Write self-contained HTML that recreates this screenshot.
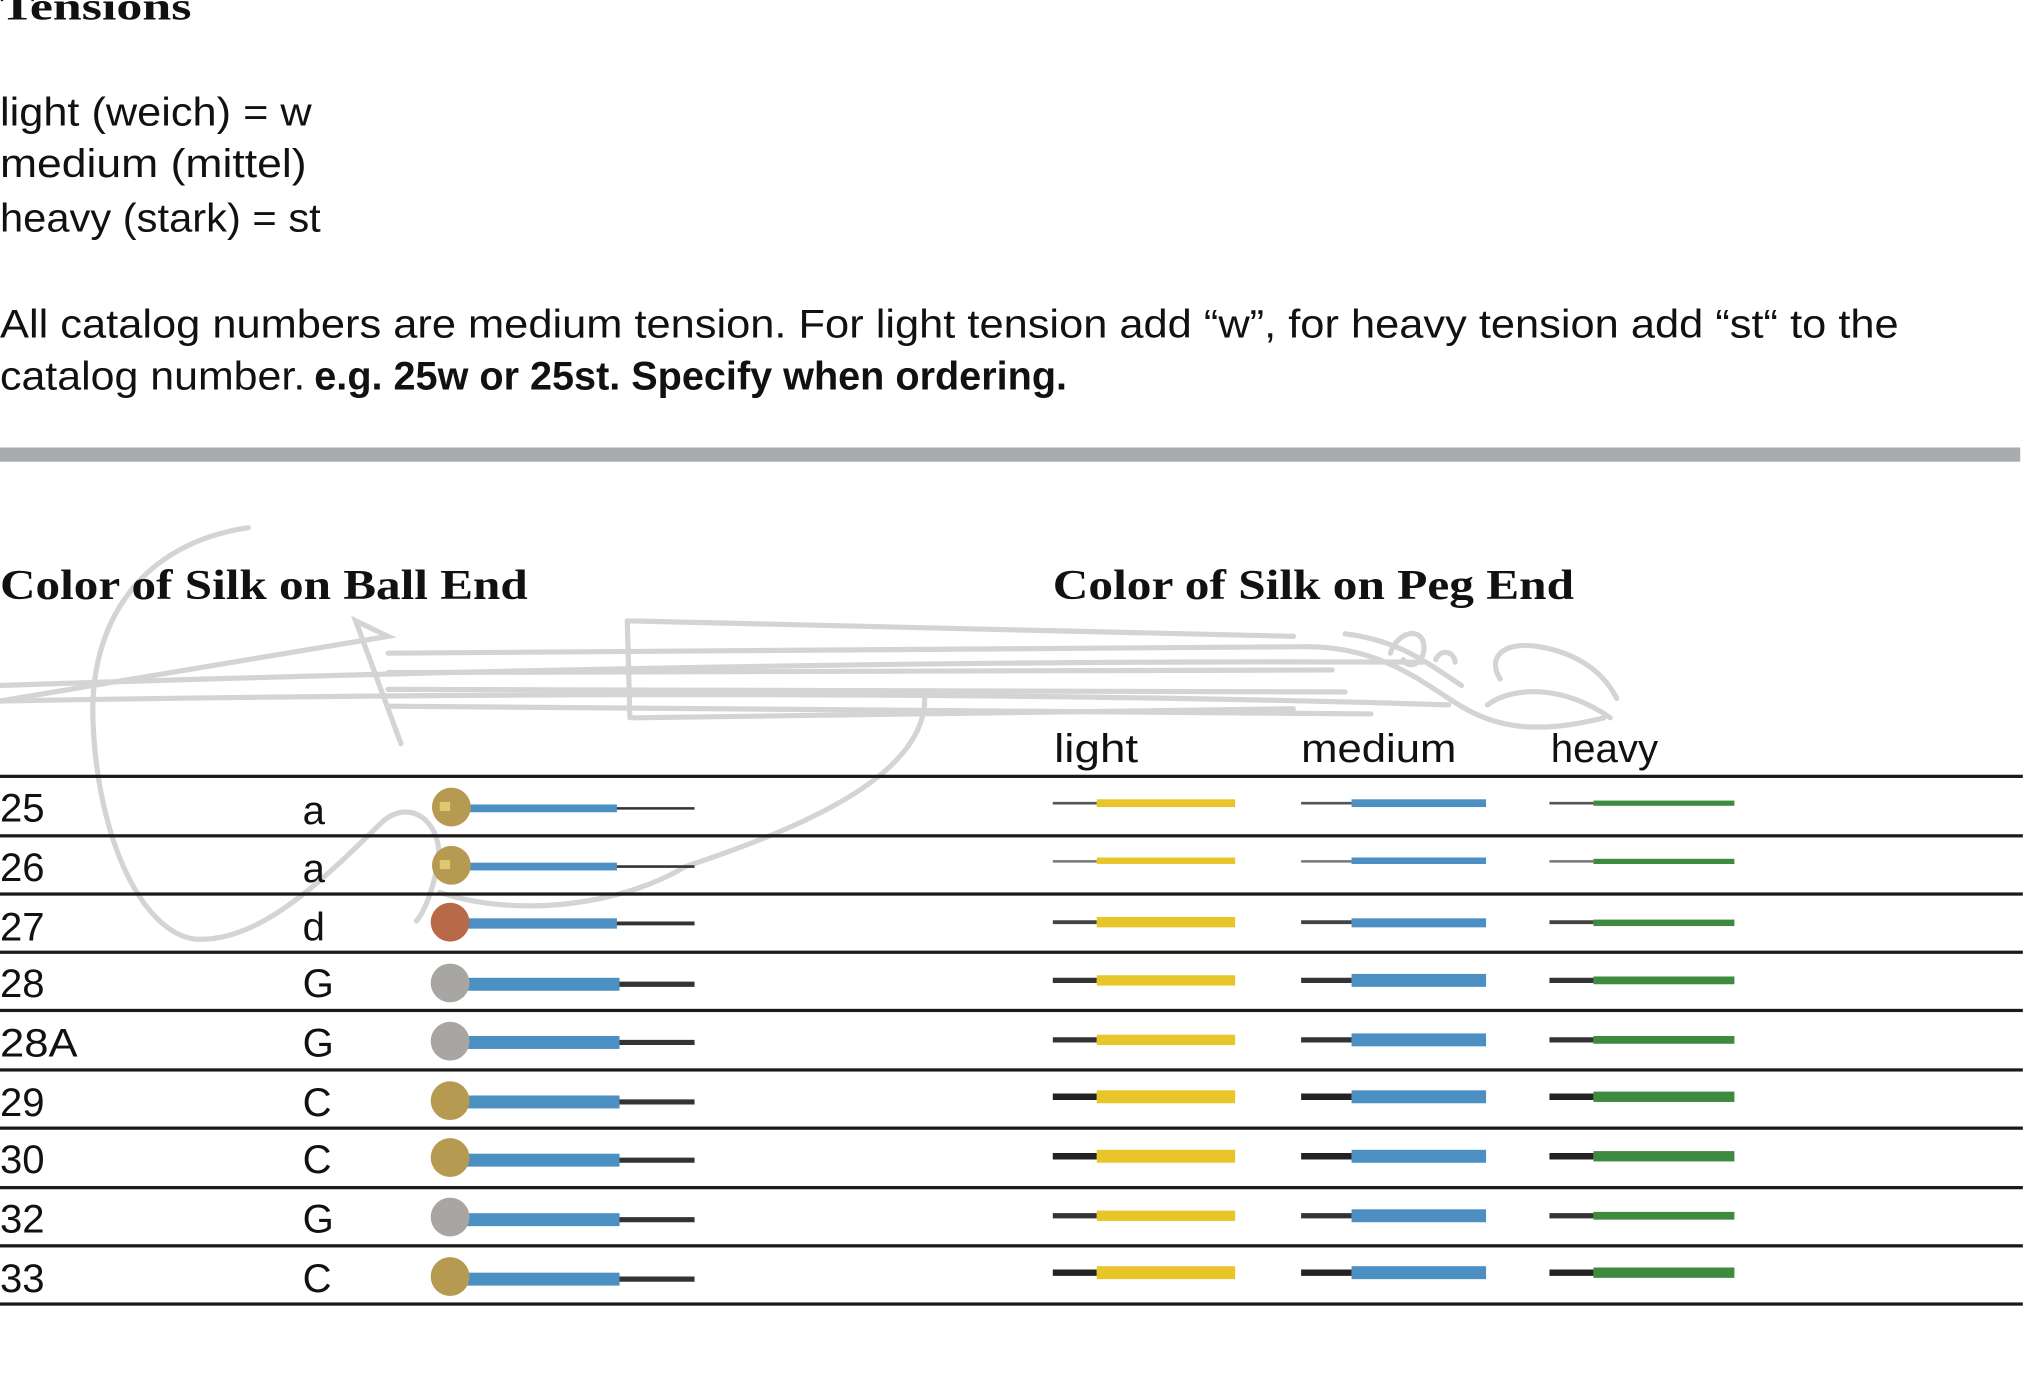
<!DOCTYPE html>
<html><head><meta charset="utf-8"><style>
html,body{margin:0;padding:0;background:#fff;}
svg{display:block;}
text{font-family:"Liberation Sans",sans-serif;fill:#111;}
.s{font-family:"Liberation Serif",serif;font-weight:bold;}
</style></head><body>
<svg width="2028" height="1379" viewBox="0 0 1568 1066.2" xmlns="http://www.w3.org/2000/svg">
<rect width="1568" height="1067" fill="#fff"/>
<g fill="none" stroke="#d2d4d6" stroke-width="4" stroke-linecap="round">
<path d="M192,408 C110,420 68,480 72,560 C76,650 110,720 150,726 C200,730 250,680 296,635 C320,615 345,640 338,670 C334,690 328,705 322,712"/>
<path d="M340,690 C400,710 480,700 530,670 C620,640 715,600 715,540"/>
<path d="M0,542 L300,492 L275,480 L310,575"/>
<path d="M0,530 C300,520 700,510 1100,512"/>
<path d="M0,542 C400,535 800,535 1120,545"/>
<path d="M300,505 L1010,500"/>
<path d="M300,520 L1030,518"/>
<path d="M300,533 L1040,535"/>
<path d="M300,546 L1060,552"/>
<path d="M485,480 L487,555"/>
<path d="M485,480 L1000,492"/>
<path d="M490,555 L1000,548"/>
<path d="M1010,500 C1060,500 1090,520 1120,540 C1150,560 1180,570 1240,555"/>
<path d="M1040,490 C1080,495 1100,510 1130,530"/>
<path d="M1075,505 C1080,490 1095,485 1100,495 C1105,510 1090,520 1085,510"/>
<path d="M1110,510 C1115,500 1125,505 1125,512"/>
<path d="M1160,525 C1150,510 1160,495 1190,500 C1220,505 1240,520 1250,540"/>
<path d="M1150,545 C1170,530 1210,530 1245,555"/>
</g>
<text class="s" x="0" y="15" font-size="30" textLength="148" lengthAdjust="spacingAndGlyphs">Tensions</text>
<text x="0" y="97" font-size="31" textLength="241" lengthAdjust="spacingAndGlyphs">light (weich) = w</text>
<text x="0" y="137" font-size="31" textLength="237" lengthAdjust="spacingAndGlyphs">medium (mittel)</text>
<text x="0" y="179" font-size="31" textLength="248" lengthAdjust="spacingAndGlyphs">heavy (stark) = st</text>
<text x="0" y="261" font-size="31" textLength="1468" lengthAdjust="spacingAndGlyphs">All catalog numbers are medium tension. For light tension add “w”, for heavy tension add “st“ to the</text>
<text x="0" y="301" font-size="31" textLength="236" lengthAdjust="spacingAndGlyphs">catalog number.</text>
<text x="243" y="301" font-size="31" font-weight="bold" textLength="582" lengthAdjust="spacingAndGlyphs">e.g. 25w or 25st. Specify when ordering.</text>
<rect x="0" y="346" width="1562" height="11" fill="#a8acaf"/>
<text class="s" x="0" y="463" font-size="33" textLength="408" lengthAdjust="spacingAndGlyphs">Color of Silk on Ball End</text>
<text class="s" x="814" y="463" font-size="33" textLength="403" lengthAdjust="spacingAndGlyphs">Color of Silk on Peg End</text>
<text x="815" y="589" font-size="31" textLength="65" lengthAdjust="spacingAndGlyphs">light</text>
<text x="1006" y="589" font-size="31" textLength="120" lengthAdjust="spacingAndGlyphs">medium</text>
<text x="1199" y="589" font-size="31" textLength="83" lengthAdjust="spacingAndGlyphs">heavy</text>
<g fill="#1a1a1a">
<rect x="0" y="599" width="1564" height="2.5"/>
<rect x="0" y="645" width="1564" height="2.5"/>
<rect x="0" y="690" width="1564" height="2.5"/>
<rect x="0" y="735" width="1564" height="2.5"/>
<rect x="0" y="780" width="1564" height="2.5"/>
<rect x="0" y="826" width="1564" height="2.5"/>
<rect x="0" y="871" width="1564" height="2.5"/>
<rect x="0" y="917" width="1564" height="2.5"/>
<rect x="0" y="962" width="1564" height="2.5"/>
<rect x="0" y="1007" width="1564" height="2.5"/>
</g>
<g font-size="31">
<text x="0" y="635">25</text><text x="234" y="637">a</text>
<text x="0" y="681">26</text><text x="234" y="682">a</text>
<text x="0" y="727">27</text><text x="234" y="727">d</text>
<text x="0" y="771">28</text><text x="234" y="771">G</text>
<text x="0" y="817" textLength="60" lengthAdjust="spacingAndGlyphs">28A</text><text x="234" y="817">G</text>
<text x="0" y="863">29</text><text x="234" y="863">C</text>
<text x="0" y="907">30</text><text x="234" y="907">C</text>
<text x="0" y="953">32</text><text x="234" y="953">G</text>
<text x="0" y="999">33</text><text x="234" y="999">C</text>
</g>
<g>
<line x1="475" y1="625" x2="537" y2="625" stroke="#333" stroke-width="2"/><rect x="355" y="622" width="122" height="6" fill="#4b8fc3"/><circle cx="349" cy="624" r="15" fill="#b69a52"/><rect x="340" y="620" width="8" height="7" fill="#e0c870"/>
<line x1="475" y1="670" x2="537" y2="670" stroke="#333" stroke-width="2"/><rect x="355" y="667" width="122" height="6" fill="#4b8fc3"/><circle cx="349" cy="669" r="15" fill="#b69a52"/><rect x="340" y="665" width="8" height="7" fill="#e0c870"/>
<line x1="475" y1="714" x2="537" y2="714" stroke="#333" stroke-width="3"/><rect x="355" y="710" width="122" height="8" fill="#4b8fc3"/><circle cx="348" cy="713" r="15" fill="#b86a48"/>
<line x1="475" y1="761" x2="537" y2="761" stroke="#333" stroke-width="4"/><rect x="355" y="756" width="124" height="10" fill="#4b8fc3"/><circle cx="348" cy="760" r="15" fill="#a8a6a2"/>
<line x1="475" y1="806" x2="537" y2="806" stroke="#333" stroke-width="4"/><rect x="355" y="801" width="124" height="10" fill="#4b8fc3"/><circle cx="348" cy="805" r="15" fill="#a8a6a2"/>
<line x1="475" y1="852" x2="537" y2="852" stroke="#333" stroke-width="4"/><rect x="355" y="847" width="124" height="10" fill="#4b8fc3"/><circle cx="348" cy="851" r="15" fill="#b69a52"/>
<line x1="475" y1="897" x2="537" y2="897" stroke="#333" stroke-width="4"/><rect x="355" y="892" width="124" height="10" fill="#4b8fc3"/><circle cx="348" cy="895" r="15" fill="#b69a52"/>
<line x1="475" y1="943" x2="537" y2="943" stroke="#333" stroke-width="4"/><rect x="355" y="938" width="124" height="10" fill="#4b8fc3"/><circle cx="348" cy="941" r="15" fill="#a8a6a2"/>
<line x1="475" y1="989" x2="537" y2="989" stroke="#333" stroke-width="4"/><rect x="355" y="984" width="124" height="10" fill="#4b8fc3"/><circle cx="348" cy="987" r="15" fill="#b69a52"/>
</g>
<g>
<line x1="814" y1="621" x2="848" y2="621" stroke="#555" stroke-width="2"/><rect x="848" y="618" width="107" height="6" fill="#e8c62a"/>
<line x1="1006" y1="621" x2="1045" y2="621" stroke="#555" stroke-width="2"/><rect x="1045" y="618" width="104" height="6" fill="#4b8fc3"/>
<line x1="1198" y1="621" x2="1232" y2="621" stroke="#555" stroke-width="2"/><rect x="1232" y="619" width="109" height="4" fill="#3e8a3e"/>
<line x1="814" y1="666" x2="848" y2="666" stroke="#777" stroke-width="2"/><rect x="848" y="663" width="107" height="5" fill="#e8c62a"/>
<line x1="1006" y1="666" x2="1045" y2="666" stroke="#777" stroke-width="2"/><rect x="1045" y="663" width="104" height="5" fill="#4b8fc3"/>
<line x1="1198" y1="666" x2="1232" y2="666" stroke="#777" stroke-width="2"/><rect x="1232" y="664" width="109" height="4" fill="#3e8a3e"/>
<line x1="814" y1="713" x2="848" y2="713" stroke="#444" stroke-width="3"/><rect x="848" y="709" width="107" height="8" fill="#e8c62a"/>
<line x1="1006" y1="713" x2="1045" y2="713" stroke="#444" stroke-width="3"/><rect x="1045" y="710" width="104" height="7" fill="#4b8fc3"/>
<line x1="1198" y1="713" x2="1232" y2="713" stroke="#444" stroke-width="3"/><rect x="1232" y="711" width="109" height="5" fill="#3e8a3e"/>
<line x1="814" y1="758" x2="848" y2="758" stroke="#333" stroke-width="4"/><rect x="848" y="754" width="107" height="8" fill="#e8c62a"/>
<line x1="1006" y1="758" x2="1045" y2="758" stroke="#333" stroke-width="4"/><rect x="1045" y="753" width="104" height="10" fill="#4b8fc3"/>
<line x1="1198" y1="758" x2="1232" y2="758" stroke="#333" stroke-width="4"/><rect x="1232" y="755" width="109" height="6" fill="#3e8a3e"/>
<line x1="814" y1="804" x2="848" y2="804" stroke="#333" stroke-width="4"/><rect x="848" y="800" width="107" height="8" fill="#e8c62a"/>
<line x1="1006" y1="804" x2="1045" y2="804" stroke="#333" stroke-width="4"/><rect x="1045" y="799" width="104" height="10" fill="#4b8fc3"/>
<line x1="1198" y1="804" x2="1232" y2="804" stroke="#333" stroke-width="4"/><rect x="1232" y="801" width="109" height="6" fill="#3e8a3e"/>
<line x1="814" y1="848" x2="848" y2="848" stroke="#222" stroke-width="5"/><rect x="848" y="843" width="107" height="10" fill="#e8c62a"/>
<line x1="1006" y1="848" x2="1045" y2="848" stroke="#222" stroke-width="5"/><rect x="1045" y="843" width="104" height="10" fill="#4b8fc3"/>
<line x1="1198" y1="848" x2="1232" y2="848" stroke="#222" stroke-width="5"/><rect x="1232" y="844" width="109" height="8" fill="#3e8a3e"/>
<line x1="814" y1="894" x2="848" y2="894" stroke="#222" stroke-width="5"/><rect x="848" y="889" width="107" height="10" fill="#e8c62a"/>
<line x1="1006" y1="894" x2="1045" y2="894" stroke="#222" stroke-width="5"/><rect x="1045" y="889" width="104" height="10" fill="#4b8fc3"/>
<line x1="1198" y1="894" x2="1232" y2="894" stroke="#222" stroke-width="5"/><rect x="1232" y="890" width="109" height="8" fill="#3e8a3e"/>
<line x1="814" y1="940" x2="848" y2="940" stroke="#333" stroke-width="4"/><rect x="848" y="936" width="107" height="8" fill="#e8c62a"/>
<line x1="1006" y1="940" x2="1045" y2="940" stroke="#333" stroke-width="4"/><rect x="1045" y="935" width="104" height="10" fill="#4b8fc3"/>
<line x1="1198" y1="940" x2="1232" y2="940" stroke="#333" stroke-width="4"/><rect x="1232" y="937" width="109" height="6" fill="#3e8a3e"/>
<line x1="814" y1="984" x2="848" y2="984" stroke="#222" stroke-width="5"/><rect x="848" y="979" width="107" height="10" fill="#e8c62a"/>
<line x1="1006" y1="984" x2="1045" y2="984" stroke="#222" stroke-width="5"/><rect x="1045" y="979" width="104" height="10" fill="#4b8fc3"/>
<line x1="1198" y1="984" x2="1232" y2="984" stroke="#222" stroke-width="5"/><rect x="1232" y="980" width="109" height="8" fill="#3e8a3e"/>
</g>
</svg>
</body></html>
